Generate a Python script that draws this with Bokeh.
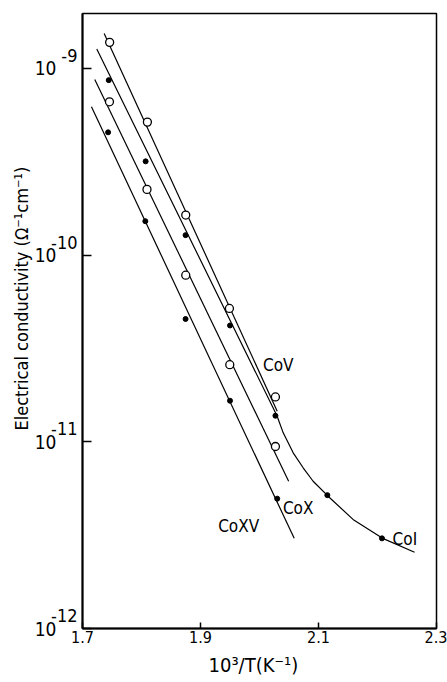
from bokeh.plotting import figure
from bokeh.models import FixedTicker, CustomJSTickFormatter, Range1d, Title, LogAxis, LogScale
from bokeh.embed import file_html
from bokeh.resources import INLINE
from bokeh.core.properties import value

# ---- data ----
x_ticks = [1.7, 1.9, 2.1, 2.3]
x_tick_labels = ["1.7", "1.9", "2.1", "2.3"]
y_ticks = [1e-12, 1e-11, 1e-10, 1e-9]
y_tick_base = ["10", "10", "10", "10"]
y_tick_exponents = ["-12", "-11", "-10", "-9"]

# CoV (open circles)
cov_x = [1.746, 1.810, 1.875, 1.949, 2.027]
cov_y = [1.38e-9, 5.16e-10, 1.64e-10, 5.18e-11, 1.74e-11]
cov_fit_x = [1.7367, 2.030]
cov_fit_y = [1.54e-9, 1.46e-11]

# CoI (filled dots)
coi_x = [1.7445, 1.807, 1.8747, 1.950, 2.027, 2.115, 2.2076]
coi_y = [8.66e-10, 3.18e-10, 1.28e-10, 4.2e-11, 1.38e-11, 5.18e-12, 3.04e-12]
coi_fit_x = [1.7242, 2.0296, 2.0402, 2.0571, 2.0740, 2.0909, 2.1158, 2.1585, 2.2079, 2.2628]
coi_fit_y = [1.27e-9, 1.38e-11, 1.117e-11, 8.73e-12, 7.26e-12, 6.15e-12, 5.13e-12, 3.84e-12, 3.05e-12, 2.56e-12]

# CoX (open circles)
cox_x = [1.7457, 1.8093, 1.875, 1.9496, 2.027]
cox_y = [6.63e-10, 2.25e-10, 7.81e-11, 2.59e-11, 9.44e-12]
cox_fit_x = [1.7208, 2.0494]
cox_fit_y = [8.73e-10, 6.15e-12]

# CoXV (filled dots)
coxv_x = [1.7434, 1.8065, 1.8747, 1.950, 2.030]
coxv_y = [4.55e-10, 1.52e-10, 4.55e-11, 1.66e-11, 4.96e-12]
coxv_fit_x = [1.7152, 2.0588]
coxv_fit_y = [6.24e-10, 3.04e-12]

series_names = ["CoV", "CoX", "CoXV", "CoI"]
name_x = [2.006, 2.0397, 1.9299, 2.2256]
name_y = [2.59e-11, 4.40e-12, 3.52e-12, 3.00e-12]

x_label = "10\u00b3/T(K\u207b\u00b9)"
y_label = "Electrical  conductivity  (\u03a9\u207b\u00b9cm\u207b\u00b9)"

FONT = "'Liberation Sans Narrow', 'DejaVu Sans Condensed', 'Roboto Condensed', sans-serif"

Y_LO, Y_HI = 1e-12, 1.97e-9
EXP_SHIFT = 10 ** -0.0695   # exponents sit about 13 px above their tick

p = figure(width=447, height=682, output_backend="svg", toolbar_location=None,
           y_axis_type="log", x_range=Range1d(1.7, 2.3), y_range=Range1d(Y_LO, Y_HI),
           min_border_left=82, min_border_right=11, min_border_top=13, min_border_bottom=52)
p.grid.visible = False
p.outline_line_color = "black"
p.outline_line_width = 1.5
p.background_fill_color = "white"
p.border_fill_color = "white"
p.extra_y_ranges = {"exp": Range1d(Y_LO * EXP_SHIFT, Y_HI * EXP_SHIFT)}
p.extra_y_scales = {"exp": LogScale()}

xa = p.xaxis[0]
xa.ticker = FixedTicker(ticks=x_ticks, minor_ticks=[])
xa.major_label_overrides = {t: l for t, l in zip(x_ticks, x_tick_labels)}
xa.major_tick_in = 6
xa.major_tick_out = 0
xa.minor_tick_line_color = None
xa.axis_line_width = 2
xa.major_tick_line_width = 1.5
xa.major_label_standoff = 2
xa.major_label_text_font = FONT
xa.major_label_text_font_size = "16px"
xa.major_label_text_color = "black"

LOOKUP = """
let best = 0, bd = 1e9;
for (let i = 0; i < tvals.length; i++) {
  const d = Math.abs(Math.log10(tvals[i]) - Math.log10(tick));
  if (d < bd) { bd = d; best = i; }
}
return tlabels[best];
"""

# main y axis: line and inward ticks only
ya = p.yaxis[0]
ya.ticker = FixedTicker(ticks=y_ticks, minor_ticks=[])
ya.formatter = CustomJSTickFormatter(args=dict(tvals=y_ticks, tlabels=["", "", "", ""]), code=LOOKUP)
ya.major_tick_in = 9
ya.major_tick_out = 0
ya.minor_tick_line_color = None
ya.axis_line_width = 2
ya.major_tick_line_width = 1.5
ya.major_label_standoff = 0

# exponent labels (raised)
ea = LogAxis(y_range_name="exp", ticker=FixedTicker(ticks=y_ticks, minor_ticks=[]),
             formatter=CustomJSTickFormatter(args=dict(tvals=y_ticks, tlabels=y_tick_exponents), code=LOOKUP),
             axis_line_color=None, major_tick_line_color=None, minor_tick_line_color=None,
             major_tick_in=0, major_tick_out=0, major_label_standoff=5,
             major_label_text_font=FONT, major_label_text_font_size="18px",
             major_label_text_color="black")
p.add_layout(ea, "left")

# base "10" labels
ba = LogAxis(ticker=FixedTicker(ticks=y_ticks, minor_ticks=[]),
             formatter=CustomJSTickFormatter(args=dict(tvals=y_ticks, tlabels=y_tick_base), code=LOOKUP),
             axis_line_color=None, major_tick_line_color=None, minor_tick_line_color=None,
             major_tick_in=0, major_tick_out=0, major_label_standoff=-8,
             major_label_text_font=FONT, major_label_text_font_size="19px",
             major_label_text_color="black")
p.add_layout(ba, "left")

# axis titles
p.add_layout(Title(text=y_label, align="left", offset=198, text_font=FONT, text_font_size="18px",
                   text_font_style="normal", text_color="black", standoff=0), "left")
p.add_layout(Title(text=x_label, align="left", offset=126, text_font=FONT, text_font_size="20px",
                   text_font_style="normal", text_color="black", standoff=11), "below")

# fitted lines
for fx, fy in [(cov_fit_x, cov_fit_y), (coi_fit_x, coi_fit_y), (cox_fit_x, cox_fit_y), (coxv_fit_x, coxv_fit_y)]:
    p.line(fx, fy, line_color="black", line_width=1.2)

# points
p.scatter(cov_x, cov_y, marker="circle", size=8, fill_color="white", line_color="black", line_width=1.3)
p.scatter(cox_x, cox_y, marker="circle", size=8, fill_color="white", line_color="black", line_width=1.3)
p.scatter(coi_x, coi_y, marker="circle", size=5, fill_color="black", line_color="black")
p.scatter(coxv_x, coxv_y, marker="circle", size=5, fill_color="black", line_color="black")

# series names
p.text(x=name_x, y=name_y, text=series_names, text_font=value(FONT), text_font_size="17px",
       text_align="left", text_baseline="alphabetic", text_color="black")

open("out.html", "w").write(file_html(p, INLINE))
